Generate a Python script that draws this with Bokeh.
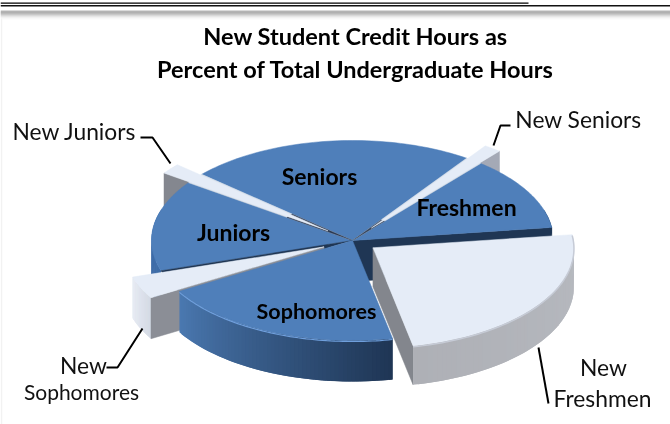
import math
from bokeh.plotting import figure
from bokeh.models import Range1d
from bokeh.core.properties import value
from bokeh.embed import file_html
from bokeh.resources import INLINE

# ---- data (share of the pie, percent), counter-clockwise from the start angle
slices = ["New Freshmen", "Freshmen", "New Seniors", "Seniors",
          "New Juniors", "Juniors", "New Sophomores", "Sophomores"]
shares = [23.9, 11.9, 1.4, 23.1, 1.7, 14.7, 3.6, 19.7]
inner_labels = ["Freshmen", "Seniors", "Juniors"]
inner_label_long = ["Sophomores"]
outer_labels = ["New Juniors", "New Seniors", "New", "New", "Freshmen"]
outer_label_long = ["Sophomores"]
title_lines = ["New Student Credit Hours as", "Percent of Total Undergraduate Hours"]

# ---- layout
W, H = 670, 424
CX, CY, RX, RY, DEPTH = 352, 240, 201, 100, 41
START = -78.5
EXPLODE = {"New Freshmen": 0.125, "New Seniors": 0.155,
           "New Juniors": 0.155, "New Sophomores": 0.155}
BLUE = "#4f7fba"
ICE = "#e5ecf7"
NAVY = "#1f3654"

p = figure(width=W, height=H, output_backend="svg", toolbar_location=None,
           x_range=Range1d(0, W), y_range=Range1d(H, 0), min_border=0,
           outline_line_color=None, background_fill_color="white",
           border_fill_color="white")
p.axis.visible = False
p.grid.visible = False
p.styles = {"position": "fixed", "left": "0px", "top": "0px"}

# angles from shares
ang = {}
a = START
for s, v in zip(slices, shares):
    ang[s] = (a, a + v * 3.6)
    a += v * 3.6


def geom(name):
    a0, a1 = ang[name]
    ex = EXPLODE.get(name, 0)
    mid = math.radians((a0 + a1) / 2)
    ax = CX + RX * ex * math.cos(mid)
    ay = CY - RY * ex * math.sin(mid)
    return a0, a1, ax, ay


def arc(name, n=60):
    a0, a1, ax, ay = geom(name)
    pts = []
    for i in range(n + 1):
        t = math.radians(a0 + (a1 - a0) * i / n)
        pts.append((ax + RX * math.cos(t), ay - RY * math.sin(t)))
    return pts


def top(name, color):
    a0, a1, ax, ay = geom(name)
    pts = arc(name)
    xs = [ax] + [q[0] for q in pts]
    ys = [ay] + [q[1] for q in pts]
    p.patch(xs, ys, fill_color=color, line_color=color, line_width=0.5)


def hole(name, k, color):
    """The gap an exploded slice leaves in the body."""
    a0, a1 = ang[name]
    xs, ys = [CX], [CY]
    for i in range(21):
        t = math.radians(a0 + (a1 - a0) * i / 20)
        xs.append(CX + RX * k * math.cos(t))
        ys.append(CY - RY * k * math.sin(t))
    p.patch(xs, ys, fill_color=color, line_color=color, line_width=0.4)


def lerp(c0, c1, t):
    a_ = [int(c0[i:i + 2], 16) for i in (1, 3, 5)]
    b_ = [int(c1[i:i + 2], 16) for i in (1, 3, 5)]
    return "#%02x%02x%02x" % tuple(round(u + (v - u) * t) for u, v in zip(a_, b_))


def wall(name, c0, c1, depth=DEPTH, n=60):
    """Rim of a slice, drawn as overlapping strips so that the shade runs along it."""
    pts = arc(name, n)
    for i in range(n):
        (x0, y0) = pts[i]
        (x1, y1) = pts[min(i + 2, n)]
        if y0 < CY - 30 and y1 < CY - 30:
            continue
        col = lerp(c0, c1, i / max(n - 1, 1))
        p.patch([x0, x1, x1, x0], [y0, y1, y1 + depth, y0 + depth],
                fill_color=col, line_color=None)


def side(name, end, color, depth=DEPTH):
    """Flat cut face from the apex to the rim."""
    a0, a1, ax, ay = geom(name)
    pts = arc(name)
    ex_, ey_ = pts[0] if end == 0 else pts[-1]
    p.patch([ax, ex_, ex_, ax], [ay, ey_, ey_ + depth, ay + depth],
            fill_color=color, line_color=color, line_width=0.5)


# header rules
p.line([0, 528], [2.6, 2.6], line_color="#000000", line_width=1.3)
p.line([0, W], [5.2, 5.2], line_color="#111111", line_width=1.6)
for y, c in zip(range(10, 19), ["#b5b5b5", "#8c8c8c", "#9a9a9a", "#a8a8a8", "#bdbdbd",
                                "#d2d2d2", "#e4e4e4", "#f1f1f1", "#f9f9f9"]):
    p.line([0, W], [y + 0.5, y + 0.5], line_color=c, line_width=1)
p.line([1, 1], [18, H], line_color="#f2f2f2", line_width=1.5)

# back walls of the thin slices, behind the main body
side("New Juniors", 1, "#84878f")
side("New Seniors", 0, "#a4a9b6")

# main body, back to front
side("Freshmen", 0, NAVY)
wall("Juniors", "#3f6da8", "#3f6da8")
wall("Freshmen", NAVY, "#2a4a75", depth=8)
top("Seniors", BLUE)
top("Freshmen", BLUE)
top("Juniors", BLUE)
hole("New Seniors", 1.0, "#d5dde9")
hole("New Seniors", 0.25, "#33445e")
hole("New Juniors", 1.0, "#d5dde9")
hole("New Juniors", 0.4, "#2a3a55")
hole("New Sophomores", 1.0, NAVY)
top("New Seniors", ICE)
top("New Juniors", ICE)

# near pieces
wall("New Sophomores", "#e6ebf3", "#d2d8e3")
side("New Sophomores", 1, "#8b8e96")
wall("Sophomores", "#4a78b0", "#1f3655")
top("New Sophomores", ICE)
top("Sophomores", BLUE)
rim = arc("Sophomores")
p.line([q[0] for q in rim], [q[1] + 1 for q in rim], line_color="#6f9fdc", line_width=1.2)

# exploded slice
side("New Freshmen", 0, "#83868d", depth=39)
wall("New Freshmen", "#aeb0b6", "#b7bac0", depth=39)
top("New Freshmen", ICE)
rim = arc("New Freshmen")
p.line([q[0] for q in rim], [q[1] + 1 for q in rim], line_color="#c6cbd6", line_width=1.5)

FONT = value("Lato")
p.text([355, 355], [35, 68], text=title_lines, text_font=FONT, text_font_style="bold",
       text_font_size="23.5px", text_align="center", text_baseline="middle", text_color="#000000")
p.text([466, 319, 233], [206, 175, 231], text=inner_labels, text_font=FONT,
       text_font_style="bold", text_font_size="23px", text_align="center",
       text_baseline="middle", text_color="#000000")
p.text([316], [310], text=inner_label_long, text_font=FONT,
       text_font_style="bold", text_font_size="21.5px", text_align="center",
       text_baseline="middle", text_color="#000000")
p.text([74, 578, 83, 603, 602], [130, 118, 364, 366, 397], text=outer_labels, text_font=FONT,
       text_font_size="22.8px", text_align="center", text_baseline="middle", text_color="#111111")
p.text([81], [391], text=outer_label_long, text_font=FONT,
       text_font_size="21px", text_align="center", text_baseline="middle", text_color="#111111")

# leader lines
for xs, ys in [([140, 152, 170], [137, 137, 163]),
               ([510, 500, 493], [125, 125, 145]),
               ([106, 117, 142], [367, 367, 328]),
               ([538, 548], [347, 403])]:
    p.line(xs, ys, line_color="#000000", line_width=2)

open("out.html", "w").write(file_html(p, INLINE))
